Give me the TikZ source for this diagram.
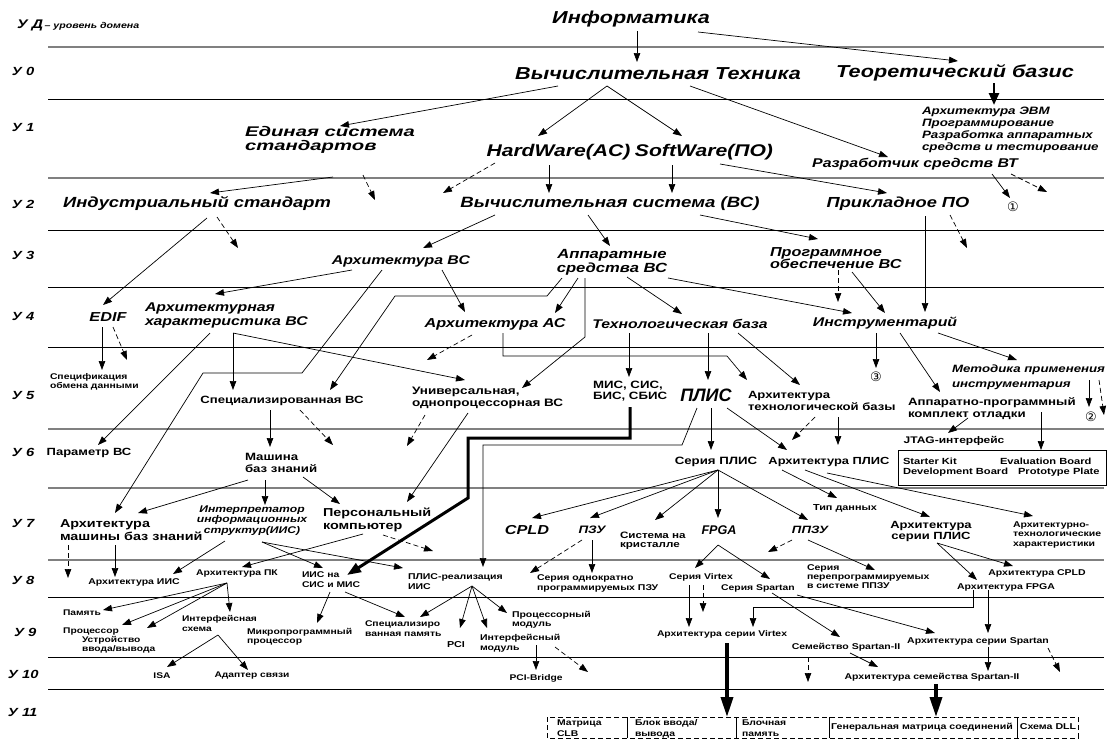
\documentclass[tikz,border=0pt]{standalone}
\usepackage{fontspec}
\setmainfont{Liberation Sans}
\newfontfamily\fw[FakeStretch=1.25]{Liberation Sans}
\newfontfamily\fx[FakeStretch=1.45]{Liberation Sans}
\newfontfamily\fn{Liberation Sans}
\newfontfamily\fsym{DejaVu Sans}
\usetikzlibrary{arrows.meta}
\newcommand\fz[2]{\fontsize{#1}{#2}\selectfont}
\lineskiplimit=-100pt
\begin{document}
\begin{tikzpicture}[x=1pt,y=-1pt,
  every node/.style={inner sep=0pt,outer sep=0pt},
  bi/.style n args={2}{font=\fz{#1}{#2}\fw\bfseries\itshape},
  bd/.style n args={2}{font=\fz{#1}{#2}\fw\bfseries},
  lvl/.style={anchor=west,font=\fz{11.8}{12}\fw\bfseries\itshape},
  circ/.style={font=\fz{13}{13}\fsym},
  ar/.style={-{Triangle[length=9pt,width=6.5pt]},line width=0.7pt},
  da/.style={ar,dash pattern=on 5pt off 3pt},
  thka/.style={-{Triangle[length=12pt,width=10pt]},line width=2.5pt},
  thkb/.style={-{Triangle[length=14pt,width=10pt]},line width=3pt},
  thkc/.style={-{Triangle[length=20pt,width=12pt]},line width=3.5pt},
  gl/.style={draw=black!50,line width=1.4pt},
  kl/.style={draw=black,line width=0.8pt}]
\useasboundingbox (0,0) rectangle (1108,740);
% level lines
\foreach \yy in {47,178,429,488,560} {\draw[gl] (48,\yy) -- (1104,\yy);}
\foreach \yy in {99,230,287,347,597,657,689} {\draw[kl] (48,\yy) -- (1104,\yy);}
% level labels
\node[lvl] (uD) at (17,25) {{\fz{12.5}{12.5}У Д}{\fz{8.5}{8.5}\,– уровень домена}};
\node[lvl] (u0) at (12,71) {У 0};
\node[lvl] (u1) at (12,127) {У 1};
\node[lvl] (u2) at (12,204) {У 2};
\node[lvl] (u3) at (12,255) {У 3};
\node[lvl] (u4) at (12,316) {У 4};
\node[lvl] (u5) at (12,395) {У 5};
\node[lvl] (u6) at (12,452) {У 6};
\node[lvl] (u7) at (12,523) {У 7};
\node[lvl] (u8) at (12,580) {У 8};
\node[lvl] (u9) at (14,632) {У 9};
\node[lvl] (u10) at (8,674) {У 10};
\node[lvl] (u11) at (8,712) {У 11};
% nodes
\node[bi={17.3}{17}] (inf) at (631,19) {Информатика};
\node[bi={17.3}{17}] (vt) at (658,74) {Вычислительная Техника};
\node[bi={17.3}{17}] (tb) at (955,73) {Теоретический базис};
\node[bi={10.7}{12},anchor=west,align=left] (tbl) at (922,130) {Архитектура ЭВМ\\Программирование\\Разработка аппаратных\\средств и тестирование};
\node[bi={12.7}{13}] (rsvt) at (915,164) {Разработчик средств ВТ};
\node[circ] (c1) at (1013,207) {①};
\node[font=\fz{14}{13.5}\fx\bfseries\itshape,anchor=west,align=left] (ess) at (245,140) {Единая система\\стандартов};
\node[bi={16.9}{17}] (hw) at (558.5,152) {HardWare(AC)};
\node[bi={16.9}{17}] (sw) at (704,152) {SoftWare(ПО)};
\node[bi={14.7}{15}] (ind) at (197,204) {Индустриальный стандарт};
\node[bi={14.9}{15}] (vs) at (610,204) {Вычислительная система (ВС)};
\node[bi={14.6}{15}] (ppo) at (898,204) {Прикладное ПО};
\node[bi={12.7}{13}] (avs) at (401,261) {Архитектура ВС};
\node[bi={13.3}{14},align=center] (asvs) at (612,262) {Аппаратные\\средства ВС};
\node[bi={13}{12},anchor=west,align=left] (pobvs) at (770,258) {Программное\\обеспечение ВС};
\node[bi={13}{13}] (edif) at (108,317) {EDIF};
\node[bi={12.7}{14},anchor=west,align=left] (akvs) at (145,315) {Архитектурная\\характеристика ВС};
\node[bi={13}{13}] (aas) at (495,324) {Архитектура АС};
\node[bi={12.6}{13}] (tehb) at (680,324) {Технологическая база};
\node[bi={12.7}{13}] (instr) at (885,323) {Инструментарий};
\node[bd={8.3}{9},anchor=west,align=left] (spec) at (50,381.5) {Спецификация\\обмена данными};
\node[bd={10.5}{11}] (svs) at (282,401) {Специализированная ВС};
\node[bd={10.8}{11.7},anchor=west,align=left] (univ) at (412,398) {Универсальная,\\однопроцессорная ВС};
\node[bd={10.6}{11.7},anchor=west,align=left] (mis) at (593,391) {МИС, СИС,\\БИС, СБИС};
\node[font=\fz{18}{18}\fn\bfseries\itshape] (plis) at (706,395) {ПЛИС};
\node[bd={10.5}{12},anchor=west,align=left] (atb) at (748,401) {Архитектура\\технологической базы};
\node[circ] (c3) at (876,377) {③};
\node[bi={10.6}{15},anchor=west,align=left] (met) at (952,377.5) {Методика применения\\инструментария};
\node[bd={10.6}{12},anchor=west,align=left] (apk) at (908,409) {Аппаратно-программный\\комплект отладки};
\node[circ] (c2) at (1091,417) {②};
\node[bd={10.4}{11}] (par) at (89,453) {Параметр ВС};
\node[bd={10.6}{12},anchor=west,align=left] (mbz) at (245,463) {Машина\\баз знаний};
\node[bd={10.6}{11}] (sp) at (716,462) {Серия ПЛИС};
\node[bd={10.3}{11}] (ap) at (829,462) {Архитектура ПЛИС};
\node[bd={9.6}{10}] (jtag) at (954,441) {JTAG-интерфейс};
\node[draw,line width=0.8pt,minimum width=208,minimum height=35] (box) at (1002,467.5) {};
\node[bd={8.9}{9},anchor=west] (bx1) at (903,461) {Starter Kit};
\node[bd={8.9}{9},anchor=west] (bx2) at (903,472) {Development Board};
\node[bd={8.9}{9},anchor=west] (bx3) at (1000,461) {Evaluation Board};
\node[bd={8.9}{9},anchor=west] (bx4) at (1018,472) {Prototype Plate};
\node[bd={11.5}{12.7},anchor=west,align=left] (amb) at (60,530) {Архитектура\\машины баз знаний};
\node[bi={9.7}{10.5},align=center] (iis) at (252,520.5) {Интерпретатор\\информационных\\структур(ИИС)};
\node[bd={11.5}{13},anchor=west,align=left] (pk) at (323,519.5) {Персональный\\компьютер};
\node[bi={13}{13}] (cpld) at (527,530) {CPLD};
\node[bi={10.8}{11}] (pzu) at (592,530) {ПЗУ};
\node[bd={9.3}{9},anchor=west,align=left] (snk) at (620,540.5) {Система на\\кристалле};
\node[font=\fz{12.6}{13}\fn\bfseries\itshape] (fpga) at (719,530) {FPGA};
\node[bi={10.6}{11}] (ppzu) at (810,530) {ППЗУ};
\node[bd={8.7}{9}] (tip) at (845,508) {Тип данных};
\node[bd={10.4}{11.5},align=center] (asp) at (931,531.5) {Архитектура\\серии ПЛИС};
\node[bd={8.4}{9.5},anchor=west,align=left] (atx) at (1013,534.5) {Архитектурно-\\технологические\\характеристики};
\node[bd={8.4}{9}] (aiis) at (134,582) {Архитектура ИИС};
\node[bd={8.3}{9}] (apc) at (237,573) {Архитектура ПК};
\node[bd={8.3}{10},anchor=west,align=left] (iissm) at (302,580) {ИИС на\\СИС и МИС};
\node[bd={8.4}{10},anchor=west,align=left] (plr) at (408,582) {ПЛИС-реализация\\ИИС};
\node[bd={8.4}{9.5},anchor=west,align=left] (sop) at (537,583.5) {Серия однократно\\программируемых ПЗУ};
\node[bd={8.3}{9}] (virt) at (701,577) {Серия Virtex};
\node[bd={8.3}{9}] (spar) at (758,588) {Серия Spartan};
\node[bd={8.4}{9},anchor=west,align=left] (spp) at (807,577) {Серия\\перепрограммируемых\\в системе ППЗУ};
\node[bd={8.4}{9}] (acpld) at (1037,573) {Архитектура CPLD};
\node[bd={8.4}{9}] (afpga) at (1006,587) {Архитектура FPGA};
\node[bd={8.2}{9}] (pam) at (82,613) {Память};
\node[bd={8.2}{9}] (proc) at (91,632) {Процессор};
\node[bd={8.2}{8.7},anchor=west,align=left] (uvv) at (82,645) {Устройство\\ввода/вывода};
\node[bd={8.2}{10},anchor=west,align=left] (ifs) at (182,623.7) {Интерфейсная\\схема};
\node[bd={8.3}{9},anchor=west,align=left] (mpp) at (247,636.5) {Микропрограммный\\процессор};
\node[bd={8.3}{10.5},anchor=west,align=left] (spm) at (365,628.5) {Специализиро\\ванная память};
\node[bd={8.6}{9}] (pci) at (456,645) {PCI};
\node[bd={8.4}{10},anchor=west,align=left] (ifm) at (480,643) {Интерфейсный\\модуль};
\node[bd={8.4}{9.5},anchor=west,align=left] (prm) at (512,619.5) {Процессорный\\модуль};
\node[bd={8.3}{9}] (asv) at (722,634) {Архитектура серии Virtex};
\node[bd={8.4}{9}] (ass) at (978,641) {Архитектура серии Spartan};
\node[bd={8.4}{9}] (sem) at (846,647) {Семейство Spartan-II};
\node[bd={8.2}{9}] (isa) at (162,676) {ISA};
\node[bd={8.2}{9}] (ads) at (252,676) {Адаптер связи};
\node[bd={8.2}{9}] (pcib) at (536,678) {PCI-Bridge};
\node[bd={8.4}{9}] (ass2) at (932,677) {Архитектура семейства Spartan-II};
% level 11 row
\draw[line width=0.8pt,dash pattern=on 5pt off 3pt] (547,717) rectangle (1078,738);
\foreach \xx in {627,736,829,1017} {\draw[line width=0.8pt] (\xx,717) -- (\xx,738);}
\node[bd={8.3}{11},anchor=west,align=left] (c11a) at (557,728.5) {Матрица\\CLB};
\node[bd={8.3}{11},anchor=west,align=left] (c11b) at (635,728.5) {Блок ввода/\\вывода};
\node[bd={8.3}{11},anchor=west,align=left] (c11c) at (742,728.5) {Блочная\\память};
\node[bd={8.5}{9}] (c11d) at (922,727) {Генеральная матрица соединений};
\node[bd={8.5}{9}] (c11e) at (1048,727) {Схема DLL};
% free ends of dashed arrows
\coordinate (d1) at (1047,192);
\coordinate (d2) at (375,200);
\coordinate (d3) at (443,193);
\coordinate (d4) at (238,248);
\coordinate (d5) at (967,248);
\coordinate (d6) at (838,302);
\coordinate (d7) at (127,360);
\coordinate (d8) at (427,360);
\coordinate (d9) at (1104,415);
\coordinate (d10) at (407,446);
\coordinate (d11) at (333,445);
\coordinate (d12) at (792,440);
\coordinate (d13) at (68,578);
\coordinate (d14) at (433,551);
\coordinate (d15) at (530,573);
\coordinate (d16) at (768,552);
\coordinate (d17) at (703,612);
\coordinate (d18) at (588,672);
\coordinate (d19) at (808,682);
\coordinate (d20) at (1060,672);
% connectors
\draw[ar] ([shift={(6,12)}]inf.center) -- ([shift={(-21,-12)}]vt.center);
\draw[ar] ([shift={(67,13)}]inf.center) -- ([shift={(3,-12)}]tb.center);
\draw[thka] ([shift={(39,10)}]tb.center) -- ([shift={(72,-25)}]tbl.west);
\draw[ar] ([shift={(-100,12)}]vt.center) -- ([shift={(95,-14)}]ess.west);
\draw[ar] ([shift={(-51,12)}]vt.center) -- ([shift={(-20.5,-16)}]hw.center);
\draw[ar] ([shift={(-51,12)}]vt.center) -- ([shift={(-22,-16)}]sw.center);
\draw[ar] ([shift={(32,12)}]vt.center) -- ([shift={(-27,-7)}]rsvt.center);
\draw[ar] ([shift={(77,10)}]rsvt.center) -- ([shift={(-3,-9)}]c1.center);
\draw[da] ([shift={(96,10)}]rsvt.center) -- (d1);
\draw[ar] ([shift={(88,37)}]ess.west) -- ([shift={(13,-11)}]ind.center);
\draw[da] ([shift={(118,35)}]ess.west) -- (d2);
\draw[da] ([shift={(-63.5,11)}]hw.center) -- (d3);
\draw[ar] ([shift={(-9.5,13)}]hw.center) -- ([shift={(-61,-11)}]vs.center);
\draw[ar] ([shift={(-32,13)}]sw.center) -- ([shift={(62,-11)}]vs.center);
\draw[ar] ([shift={(16,12)}]sw.center) -- ([shift={(-11,-11)}]ppo.center);
\draw[ar] ([shift={(10,14)}]ind.center) -- ([shift={(-5,-12)}]edif.center);
\draw[da] ([shift={(20,13)}]ind.center) -- (d4);
\draw[ar] ([shift={(-115,11)}]vs.center) -- ([shift={(22,-13)}]avs.center);
\draw[ar] ([shift={(-22,11)}]vs.center) -- ([shift={(-2,-16)}]asvs.center);
\draw[ar] ([shift={(90,11)}]vs.center) -- ([shift={(48,-19)}]pobvs.west);
\draw[ar] ([shift={(27,12)}]ppo.center) -- ([shift={(40,-11)}]instr.center);
\draw[da] ([shift={(52,11)}]ppo.center) -- (d5);
\draw[ar] ([shift={(-49,9)}]avs.center) -- ([shift={(70,-21)}]akvs.west);
\draw[ar] ([shift={(41,9)}]avs.center) -- ([shift={(-30,-12)}]aas.center);
\draw[ar] ([shift={(-19,9)}]avs.center) -- (302,373) -- (203,373) -- ([shift={(55,-17)}]amb.west);
\draw[ar] ([shift={(-34,16)}]asvs.center) -- ([shift={(60,-11)}]aas.center);
\draw[ar] ([shift={(15,15)}]asvs.center) -- ([shift={(2,-10)}]tehb.center);
\draw[ar] ([shift={(56,16)}]asvs.center) -- ([shift={(-33,-10)}]instr.center);
\draw[ar] ([shift={(-50,16)}]asvs.center) -- (547,296) -- (395,296) -- ([shift={(48,-11)}]svs.center);
\draw[ar] ([shift={(-27,16)}]asvs.center) -- (585,337) -- ([shift={(110,-10)}]univ.west);
\draw[da] ([shift={(68,12)}]pobvs.west) -- (d6);
\draw[ar] ([shift={(82,14)}]pobvs.west) -- ([shift={(0,-10)}]instr.center);
\draw[ar] ([shift={(-6,10)}]edif.center) -- ([shift={(52,-11.5)}]spec.west);
\draw[da] ([shift={(5,10)}]edif.center) -- (d7);
\draw[ar] ([shift={(88,18)}]akvs.west) -- ([shift={(-49,-11)}]svs.center);
\draw[ar] ([shift={(88,18)}]akvs.west) -- ([shift={(53,-18)}]univ.west);
\draw[ar] ([shift={(65,18)}]akvs.west) -- ([shift={(9,-8)}]par.center);
\draw[da] ([shift={(-23,11)}]aas.center) -- (d8);
\draw[ar] ([shift={(8,9)}]aas.center) -- (503,356) -- (727,356) -- ([shift={(-1,-21)}]atb.west);
\draw[ar] ([shift={(-51,9)}]tehb.center) -- ([shift={(36,-14)}]mis.west);
\draw[ar] ([shift={(28,9)}]tehb.center) -- ([shift={(2,-15)}]plis.center);
\draw[ar] ([shift={(58,9)}]tehb.center) -- ([shift={(52,-16)}]atb.west);
\draw[ar] ([shift={(-9,10)}]instr.center) -- ([shift={(0,-9)}]c3.center);
\draw[ar] ([shift={(15,10)}]instr.center) -- ([shift={(32,-17)}]apk.west);
\draw[ar] ([shift={(53,10)}]instr.center) -- ([shift={(65,-17.5)}]met.west);
\draw[ar] ([shift={(137,2.5)}]met.west) -- ([shift={(-2,-10)}]c2.center);
\draw[da] ([shift={(147,2.5)}]met.west) -- (d9);
\draw[da] ([shift={(13,17)}]univ.west) -- (d10);
\draw[ar] ([shift={(56,15)}]univ.west) -- ([shift={(84,-17.5)}]pk.west);
\draw[ar] ([shift={(-12,9)}]svs.center) -- ([shift={(25,-16)}]mbz.west);
\draw[da] ([shift={(18,9)}]svs.center) -- (d11);
\draw[ar] ([shift={(5,13)}]plis.center) -- ([shift={(-5,-12)}]sp.center);
\draw[ar] ([shift={(-9,13)}]plis.center) -- (682,445) -- (483,445) -- ([shift={(75,-15)}]plr.west);
\draw[thkb] ([shift={(37,16)}]mis.west) -- (630,438) -- (468,438) -- (468,498) -- ([shift={(45,-5)}]iissm.west);
\draw[ar] ([shift={(21,13)}]plis.center) -- ([shift={(-42,-12)}]ap.center);
\draw[da] ([shift={(67,16)}]atb.west) -- (d12);
\draw[ar] ([shift={(90,16)}]atb.west) -- ([shift={(9,-17)}]ap.center);
\draw[ar] ([shift={(60,9)}]apk.west) -- ([shift={(-6,-8)}]jtag.center);
\draw[ar] ([shift={(133,3)}]apk.west) -- ([shift={(39,-17.5)}]box.center);
\draw[ar] ([shift={(3,17)}]mbz.west) -- ([shift={(78,-17)}]amb.west);
\draw[ar] ([shift={(20,17)}]mbz.west) -- ([shift={(13,-15.5)}]iis.center);
\draw[ar] ([shift={(58,14)}]mbz.west) -- ([shift={(17,-15.5)}]pk.west);
\draw[ar] ([shift={(2,8)}]sp.center) -- ([shift={(5,-12)}]cpld.center);
\draw[ar] ([shift={(2,8)}]sp.center) -- ([shift={(-2,-12)}]pzu.center);
\draw[ar] ([shift={(2,8)}]sp.center) -- ([shift={(35,-20.5)}]snk.west);
\draw[ar] ([shift={(2,8)}]sp.center) -- ([shift={(-1,-12)}]fpga.center);
\draw[ar] ([shift={(2,8)}]sp.center) -- ([shift={(-2,-10)}]ppzu.center);
\draw[ar] ([shift={(-47,8)}]ap.center) -- ([shift={(-8,-10)}]tip.center);
\draw[ar] ([shift={(-24,8)}]ap.center) -- ([shift={(-1,-14.5)}]asp.center);
\draw[ar] ([shift={(-2,11)}]ap.center) -- ([shift={(20,-18.5)}]atx.west);
\draw[da] ([shift={(8,15)}]amb.west) -- (d13);
\draw[ar] ([shift={(55,15)}]amb.west) -- ([shift={(-19,-5)}]aiis.center);
\draw[ar] ([shift={(-27,20.5)}]iis.center) -- ([shift={(39,-8)}]aiis.center);
\draw[ar] ([shift={(40,14.5)}]pk.west) -- ([shift={(5,-6)}]apc.center);
\draw[ar] ([shift={(10,21.5)}]iis.center) -- ([shift={(21,-12)}]iissm.west);
\draw[ar] ([shift={(10,21.5)}]iis.center) -- ([shift={(-5,-14)}]plr.west);
\draw[da] ([shift={(60,15.5)}]pk.west) -- (d14);
\draw[da] ([shift={(-10,10)}]pzu.center) -- (d15);
\draw[ar] ([shift={(0,10)}]pzu.center) -- ([shift={(55,-10.5)}]sop.west);
\draw[ar] ([shift={(-1,15)}]fpga.center) -- ([shift={(-6,-9)}]virt.center);
\draw[ar] ([shift={(-1,15)}]fpga.center) -- ([shift={(12,-9)}]spar.center);
\draw[da] ([shift={(-18,10)}]ppzu.center) -- (d16);
\draw[ar] ([shift={(-2,10)}]ppzu.center) -- ([shift={(68,-7)}]spp.west);
\draw[ar] ([shift={(6,11.5)}]asp.center) -- ([shift={(-24,-7)}]acpld.center);
\draw[ar] ([shift={(6,11.5)}]asp.center) -- ([shift={(-29,-7)}]afpga.center);
\draw[ar] ([shift={(-10,10)}]apc.center) -- ([shift={(21,-3)}]pam.center);
\draw[ar] ([shift={(-10,10)}]apc.center) -- ([shift={(31,-7)}]proc.center);
\draw[ar] ([shift={(-10,10)}]apc.center) -- ([shift={(65,-17)}]uvv.west);
\draw[ar] ([shift={(-10,10)}]apc.center) -- ([shift={(48,-11.7)}]ifs.west);
\draw[ar] ([shift={(28,12)}]iissm.west) -- ([shift={(70,-13.5)}]mpp.west);
\draw[ar] ([shift={(43,12)}]iissm.west) -- ([shift={(40,-11.5)}]spm.west);
\draw[ar] ([shift={(64,4)}]plr.west) -- ([shift={(55,-11.5)}]spm.west);
\draw[ar] ([shift={(64,4)}]plr.west) -- ([shift={(4,-17)}]pci.center);
\draw[ar] ([shift={(64,4)}]plr.west) -- ([shift={(7,-15)}]ifm.west);
\draw[ar] ([shift={(64,4)}]plr.west) -- ([shift={(-5,-6.5)}]prm.west);
\draw[ar] ([shift={(-12,8)}]virt.center) -- ([shift={(-33,-7)}]asv.center);
\draw[da] ([shift={(2,8)}]virt.center) -- (d17);
\draw[ar] ([shift={(-33,3)}]afpga.center) -- (973,607) -- (753,607) -- ([shift={(31,-7)}]asv.center);
\draw[ar] ([shift={(-18,3)}]afpga.center) -- ([shift={(10,-8)}]ass.center);
\draw[ar] ([shift={(14,5)}]spar.center) -- ([shift={(-6,-10)}]sem.center);
\draw[ar] ([shift={(39,7)}]spar.center) -- ([shift={(-43,-8)}]ass.center);
\draw[ar] ([shift={(36,11.3)}]ifs.west) -- ([shift={(5,-9)}]isa.center);
\draw[ar] ([shift={(36,11.3)}]ifs.west) -- ([shift={(-4,-6)}]ads.center);
\draw[ar] ([shift={(56,2)}]ifm.west) -- ([shift={(0,-8)}]pcib.center);
\draw[da] ([shift={(75,4)}]ifm.west) -- (d18);
\draw[da] ([shift={(-38,10)}]sem.center) -- (d19);
\draw[ar] ([shift={(4,6)}]sem.center) -- ([shift={(-54,-10)}]ass2.center);
\draw[ar] ([shift={(10,6)}]ass.center) -- ([shift={(56,-6)}]ass2.center);
\draw[da] ([shift={(70,7)}]ass.center) -- (d20);
\draw[thkc] ([shift={(5,9)}]asv.center) -- ([shift={(92,-11.5)}]c11b.west);
\draw[thkc] ([shift={(4,7)}]ass2.center) -- ([shift={(14,-10)}]c11d.center);
\end{tikzpicture}
\end{document}
